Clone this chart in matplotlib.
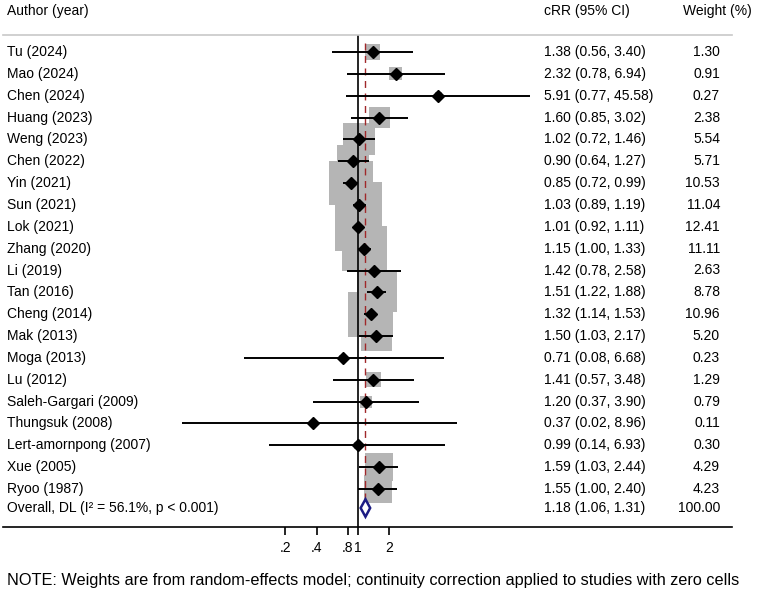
import numpy as np
import matplotlib.pyplot as plt
from matplotlib.transforms import blended_transform_factory

plt.rcParams['font.family'] = ['Liberation Sans', 'DejaVu Sans']

authors = ['Tu (2024)', 'Mao (2024)', 'Chen (2024)', 'Huang (2023)', 'Weng (2023)',
           'Chen (2022)', 'Yin (2021)', 'Sun (2021)', 'Lok (2021)', 'Zhang (2020)',
           'Li (2019)', 'Tan (2016)', 'Cheng (2014)', 'Mak (2013)', 'Moga (2013)',
           'Lu (2012)', 'Saleh-Gargari (2009)', 'Thungsuk (2008)',
           'Lert-amornpong (2007)', 'Xue (2005)', 'Ryoo (1987)']
rr = [1.38, 2.32, 5.91, 1.60, 1.02, 0.90, 0.85, 1.03, 1.01, 1.15, 1.42, 1.51,
      1.32, 1.50, 0.71, 1.41, 1.20, 0.37, 0.99, 1.59, 1.55]
lo = [0.56, 0.78, 0.77, 0.85, 0.72, 0.64, 0.72, 0.89, 0.92, 1.00, 0.78, 1.22,
      1.14, 1.03, 0.08, 0.57, 0.37, 0.02, 0.14, 1.03, 1.00]
hi = [3.40, 6.94, 45.58, 3.02, 1.46, 1.27, 0.99, 1.19, 1.11, 1.33, 2.58, 1.88,
      1.53, 2.17, 6.68, 3.48, 3.90, 8.96, 6.93, 2.44, 2.40]
weights = [1.30, 0.91, 0.27, 2.38, 5.54, 5.71, 10.53, 11.04, 12.41, 11.11, 2.63,
           8.78, 10.96, 5.20, 0.23, 1.29, 0.79, 0.11, 0.30, 4.29, 4.23]

overall_label = 'Overall, DL (I² = 56.1%, p < 0.001)'
overall_rr, overall_lo, overall_hi, overall_w = 1.18, 1.06, 1.31, 100.00

tick_vals = [0.2, 0.4, 0.8, 1, 2]
tick_labels = ['.2', '.4', '.8', '1', '2']

W, H = 760, 592
fig = plt.figure(figsize=(W / 100, H / 100), dpi=100)
ax = fig.add_axes([0, 0, 1, 1])
ax.set_xscale('log')
ax.axis('off')

# pixel layout: x=358 at RR 1, 45.1 px per log unit; first row at y=52, 21.85 px per row
x0, k = 358, 45.1
ax.set_xlim(np.exp(-x0 / k), np.exp((W - x0) / k))
row0, dy = 52, 21.85
ax.set_ylim((H - row0) / dy, -row0 / dy)


def row(py):
    return (py - row0) / dy


n = len(authors)
y = np.arange(n)
y_all = row(508)
tr = blended_transform_factory(fig.transFigure, ax.transData)
fs = 10

# weight boxes
ax.scatter(rr, y, s=np.array(weights) * 95, marker='s', color='#b5b5b5',
           linewidths=0, zorder=1)
ax.hlines(y, lo, hi, color='black', lw=1.4, zorder=3)
ax.plot(rr, y, 'D', color='black', ms=6, zorder=4)

# null line and overall line
ax.vlines(1, row(35), row(527), color='black', lw=1.2, zorder=2)
ax.vlines(overall_rr, row(43), row(515), color='#a0282a', lw=1.0,
          linestyles=(0, (5, 4)), zorder=2)

# overall diamond
ax.fill([overall_lo, overall_rr, overall_hi, overall_rr],
        [y_all, y_all - 0.4, y_all, y_all + 0.4],
        facecolor='white', edgecolor='#1c1c84', lw=1.8, zorder=5)

# header and separators
ax.plot([3 / W, 732 / W], [row(35)] * 2, color='#c8c8c8', lw=1.2, transform=tr)
ax.plot([3 / W, 732 / W], [row(527)] * 2, color='black', lw=1.2, transform=tr)
ax.text(7 / W, row(11), 'Author (year)', transform=tr, fontsize=fs, va='center')
ax.text(544 / W, row(11), 'cRR (95% CI)', transform=tr, fontsize=fs, va='center')
ax.text(683 / W, row(11), 'Weight (%)', transform=tr, fontsize=fs, va='center')

for i in range(n):
    ax.text(7 / W, y[i], authors[i], transform=tr, fontsize=fs, va='center')
    ax.text(544 / W, y[i], f'{rr[i]:.2f} ({lo[i]:.2f}, {hi[i]:.2f})',
            transform=tr, fontsize=fs, va='center')
    ax.text(720 / W, y[i], f'{weights[i]:.2f}', transform=tr, fontsize=fs,
            va='center', ha='right')

ax.text(7 / W, y_all, overall_label, transform=tr, fontsize=fs, va='center')
ax.text(544 / W, y_all, f'{overall_rr:.2f} ({overall_lo:.2f}, {overall_hi:.2f})',
        transform=tr, fontsize=fs, va='center')
ax.text(720 / W, y_all, f'{overall_w:.2f}', transform=tr, fontsize=fs,
        va='center', ha='right')

# x axis ticks
ax.vlines(tick_vals, row(527), row(535), color='black', lw=1.2)
for v, lab in zip(tick_vals, tick_labels):
    ax.text(v, row(548), lab, fontsize=fs, ha='center', va='center')

ax.text(7 / W, row(580),
        'NOTE: Weights are from random-effects model; continuity correction '
        'applied to studies with zero cells',
        transform=tr, fontsize=11.7, va='center')

fig.savefig('out.png', dpi=100)
